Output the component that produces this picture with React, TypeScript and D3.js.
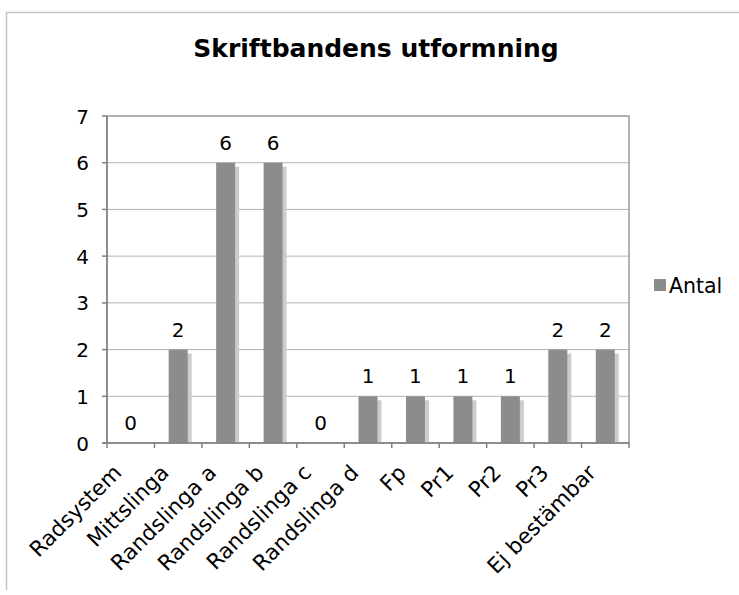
import React from "react";
import * as d3 from "d3";

const categories = ["Radsystem", "Mittslinga", "Randslinga a", "Randslinga b", "Randslinga c", "Randslinga d", "Fp", "Pr1", "Pr2", "Pr3", "Ej bestämbar"];
const antal = [0, 2, 6, 6, 0, 1, 1, 1, 1, 2, 2];
const yTicks = [0, 1, 2, 3, 4, 5, 6, 7];
const seriesName = "Antal";
const title = "Skriftbandens utformning";

const W = 739, H = 595;
const plot = { left: 107, right: 629, top: 116, bottom: 443 };
const font = "'DejaVu Sans', Verdana, sans-serif";
const fs = 20;

export default function App() {
  const x = d3.scaleBand<string>().domain(categories).range([plot.left, plot.right]).paddingInner(0).paddingOuter(0);
  const y = d3.scaleLinear().domain([0, 7]).range([plot.bottom, plot.top]);
  const bw = x.bandwidth() * 0.4;
  const bandEdges = categories.map((c) => x(c)!).concat([plot.right]);

  return (
    <svg width={W} height={H} style={{ position: "absolute", left: 0, top: 0, background: "#fff" }}>
      <line x1={6} y1={12.5} x2={W} y2={12.5} stroke="#c4c4c4" strokeWidth={1.5} />
      <line x1={6.5} y1={12} x2={6.5} y2={590} stroke="#c4c4c4" strokeWidth={1.5} />
      <text x={376} y={57} textAnchor="middle" fontFamily={font} fontWeight="bold" fontSize={25} fill="#000">{title}</text>

      {yTicks.filter((t) => t > 0 && t < 7).map((t) => (
        <line key={"g" + t} x1={plot.left} x2={plot.right} y1={y(t)} y2={y(t)} stroke="#b3b3b3" strokeWidth={1} />
      ))}
      <rect x={plot.left} y={plot.top} width={plot.right - plot.left} height={plot.bottom - plot.top} fill="none" stroke="#999" strokeWidth={1.5} />

      {categories.map((c, i) => {
        const v = antal[i];
        const bx = x(c)! + (x.bandwidth() - bw) / 2;
        const top = y(v);
        const h = plot.bottom - top;
        return (
          <g key={c}>
            {v > 0 && (
              <rect x={bx + 4} y={top + 4} width={bw} height={Math.max(0, h - 4)} fill="#cccccc" />
            )}
            {v > 0 && <rect x={bx} y={top} width={bw} height={h} fill="#8c8c8c" />}
            <text x={x(c)! + x.bandwidth() / 2} y={top - 13} textAnchor="middle" fontFamily={font} fontSize={fs} fill="#000">{v}</text>
          </g>
        );
      })}

      <line x1={plot.left - 5} x2={plot.right} y1={plot.bottom} y2={plot.bottom} stroke="#808080" strokeWidth={1.5} />
      <line x1={plot.left} x2={plot.left} y1={plot.top} y2={plot.bottom} stroke="#808080" strokeWidth={1.5} />
      {yTicks.map((t) => (
        <g key={"t" + t}>
          <line x1={plot.left - 5} x2={plot.left} y1={y(t)} y2={y(t)} stroke="#808080" strokeWidth={1.5} />
          <text x={89} y={y(t) + 7.5} textAnchor="end" fontFamily={font} fontSize={fs} fill="#000">{t}</text>
        </g>
      ))}
      {bandEdges.map((e, i) => (
        <line key={"xt" + i} x1={e} x2={e} y1={plot.bottom} y2={plot.bottom + 5} stroke="#808080" strokeWidth={1.5} />
      ))}
      {categories.map((c) => {
        const cx = x(c)! + x.bandwidth() / 2 - 8;
        const cy = plot.bottom + 31;
        return (
          <text key={"xl" + c} x={cx} y={cy} transform={`rotate(-45 ${cx} ${cy})`} textAnchor="end" fontFamily={font} fontSize={21.5} fill="#000">{c}</text>
        );
      })}

      <rect x={654} y={279} width={12} height={12} fill="#8c8c8c" />
      <text x={669} y={293} fontFamily={font} fontSize={20.5} fill="#000">{seriesName}</text>
    </svg>
  );
}
